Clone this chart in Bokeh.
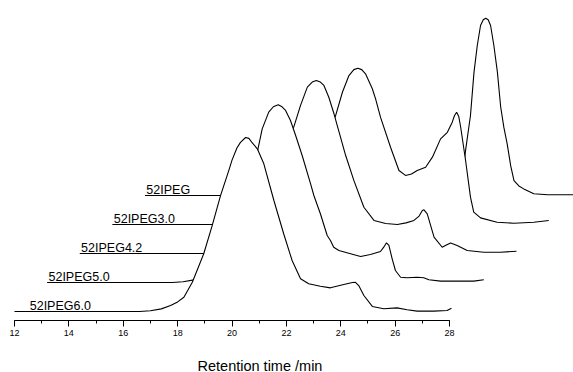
from bokeh.plotting import figure
from bokeh.models import Range1d, SingleIntervalTicker, Title
from bokeh.core.properties import value
from bokeh.embed import file_html
from bokeh.resources import INLINE

# ---- data (own retention time of each trace, normalised RI signal) ----
names = ["52IPEG6.0", "52IPEG5.0", "52IPEG4.2", "52IPEG3.0", "52IPEG"]

t_60 = [12.0, 16.6, 17.0, 17.4, 17.74, 18.0, 18.23, 18.54, 18.96, 19.27, 19.58, 19.88, 20.0,
        20.18, 20.31, 20.5, 20.62, 20.74, 20.93, 21.17, 21.54, 21.9, 22.21, 22.52, 22.82,
        23.25, 23.62, 24.11, 24.43, 24.54, 24.66, 24.85, 25.16, 25.58, 26.07, 26.44, 26.81,
        27.42, 27.91, 28.07]
h_60 = [0.0, 0.0, 0.004, 0.015, 0.034, 0.055, 0.082, 0.168, 0.332, 0.494, 0.667, 0.810, 0.870,
        0.940, 0.972, 1.000, 0.995, 0.970, 0.935, 0.849, 0.638, 0.447, 0.293, 0.188, 0.159,
        0.145, 0.136, 0.155, 0.167, 0.168, 0.149, 0.092, 0.029, 0.016, 0.021, 0.010, 0.002,
        0.002, 0.006, 0.019]

t_50 = [12.0, 16.6, 17.0, 17.4, 17.74, 18.0, 18.23, 18.54, 18.96, 19.27, 19.58, 19.73, 19.91,
        20.15, 20.32, 20.5, 20.64, 20.77, 20.95, 21.14, 21.38, 21.69, 21.81, 22.05, 22.3,
        22.42, 22.54, 22.73, 23.16, 23.53, 23.89, 24.26, 24.38, 24.48, 24.57, 24.69, 24.81,
        25.0, 25.24, 25.61, 25.85, 26.04, 26.47, 27.08, 27.69, 28.06]
h_50 = [0.0, 0.0, 0.004, 0.015, 0.034, 0.055, 0.082, 0.168, 0.332, 0.494, 0.667, 0.749, 0.883,
        0.979, 1.010, 1.021, 1.010, 0.989, 0.931, 0.845, 0.730, 0.567, 0.500, 0.395, 0.270,
        0.241, 0.203, 0.184, 0.165, 0.149, 0.161, 0.178, 0.203, 0.228, 0.213, 0.136, 0.069,
        0.030, 0.027, 0.030, 0.027, 0.016, 0.008, 0.008, 0.008, 0.016]

t_42 = [12.0, 16.8, 17.2, 17.6, 17.9, 18.2, 18.4, 18.7, 19.1, 19.45, 19.67, 19.87, 20.12,
        20.37, 20.55, 20.7, 20.85, 20.98, 21.16, 21.35, 21.78, 22.08, 22.45, 22.82, 23.25,
        23.68, 24.0, 24.29, 24.48, 24.6, 24.66, 24.78, 25.03, 25.33, 25.5, 25.64, 25.88,
        26.25, 26.86, 27.47, 28.06]
h_42 = [0.0, 0.0, 0.004, 0.015, 0.034, 0.060, 0.082, 0.168, 0.332, 0.500, 0.640, 0.726, 0.851,
        0.956, 0.985, 0.994, 0.985, 0.966, 0.898, 0.803, 0.563, 0.420, 0.266, 0.190, 0.172,
        0.167, 0.176, 0.190, 0.215, 0.247, 0.251, 0.228, 0.094, 0.036, 0.050, 0.060, 0.046,
        0.017, 0.007, 0.007, 0.013]

t_30 = [12.0, 17.2, 17.6, 17.9, 18.25, 18.6, 18.95, 19.45, 19.8, 20.0, 20.21, 20.46, 20.7,
        20.88, 21.03, 21.17, 21.31, 21.56, 21.68, 21.86, 22.23, 22.54, 22.78, 23.0, 23.21,
        23.52, 23.77, 24.07, 24.32, 24.5, 24.58, 24.66, 24.74, 24.81, 24.99, 25.17, 25.29,
        25.54, 26.15, 26.77, 27.5, 28.05]
h_30 = [0.0, 0.0, 0.004, 0.013, 0.035, 0.070, 0.144, 0.300, 0.450, 0.540, 0.626, 0.760, 0.856,
        0.890, 0.898, 0.890, 0.866, 0.780, 0.722, 0.617, 0.444, 0.310, 0.282, 0.290, 0.310,
        0.329, 0.387, 0.492, 0.530, 0.588, 0.625, 0.645, 0.620, 0.559, 0.368, 0.157, 0.071,
        0.038, 0.013, 0.007, 0.013, 0.023]

t_00 = [12.0, 20.0, 23.3, 23.45, 23.6, 23.73, 23.79, 23.97, 24.1, 24.22, 24.34, 24.44, 24.53,
        24.62, 24.71, 24.83, 24.96, 25.08, 25.2, 25.32, 25.45, 25.57, 25.75, 25.93, 26.3,
        26.8, 27.76, 28.0]
h_00 = [0.0, 0.0, 0.0, 0.020, 0.090, 0.182, 0.259, 0.460, 0.709, 0.862, 0.977, 1.010, 1.019,
        1.010, 0.977, 0.862, 0.709, 0.510, 0.390, 0.297, 0.170, 0.086, 0.055, 0.038, 0.010,
        0.004, 0.004, 0.004]

times = [t_60, t_50, t_42, t_30, t_00]
signals = [h_60, h_50, h_42, h_30, h_00]

axis_start, axis_end = 12, 28
axis_title = "Retention time /min"

# ---- layout constants ----
PX_PER_MIN = 27.19
PX_PER_UNIT = 174.0
DX = 1.2                 # horizontal waterfall shift per trace (min)
DY = 29.0 / PX_PER_UNIT  # vertical waterfall shift per trace
label_x_own = [12.56, 12.05, 12.05, 12.05, 12.05]
FONT = "Liberation Sans"

x0 = 12 - 14 / PX_PER_MIN
p = figure(frame_width=573, frame_height=320, output_backend="svg", toolbar_location=None,
           x_range=Range1d(x0, x0 + 573 / PX_PER_MIN),
           y_range=Range1d(-9 / PX_PER_UNIT, 311 / PX_PER_UNIT),
           y_axis_location=None,
           min_border_left=0, min_border_right=0, min_border_top=0, min_border_bottom=0)
p.outline_line_color = None
p.grid.visible = False
p.background_fill_color = "white"
p.border_fill_color = "white"

for k in reversed(range(len(names))):
    xs = [t + k * DX for t in times[k]]
    base = k * DY
    ys = [h + base for h in signals[k]]
    p.varea(x=xs, y1=[base] * len(xs), y2=ys, fill_color="white", fill_alpha=1.0)
    p.line(xs, ys, line_color="black", line_width=1.1)

lx = [label_x_own[k] + k * DX for k in range(len(names))]
ly = [k * DY + 6.0 / PX_PER_UNIT for k in range(len(names))]
p.text(x=lx, y=ly, text=names, text_font=value(FONT), text_font_size="12.5px",
       text_baseline="alphabetic", text_align="left", text_color="black")

ax = p.xaxis[0]
ax.bounds = (axis_start, axis_end)
ax.ticker = SingleIntervalTicker(interval=2, num_minor_ticks=2)
ax.major_tick_in = 0
ax.major_tick_out = 6
ax.minor_tick_in = 0
ax.minor_tick_out = 3
ax.major_label_standoff = 3
ax.major_label_text_font = FONT
ax.major_label_text_font_size = "9px"
ax.major_label_text_color = "black"
ax.axis_line_color = "black"
ax.major_tick_line_color = "black"
ax.minor_tick_line_color = "black"

title = Title(text=axis_title, align="left", offset=197, standoff=34,
              text_font=FONT, text_font_size="14.5px", text_font_style="normal",
              text_color="black")
p.add_layout(title, "below")

open("out.html", "w").write(file_html(p, INLINE))
